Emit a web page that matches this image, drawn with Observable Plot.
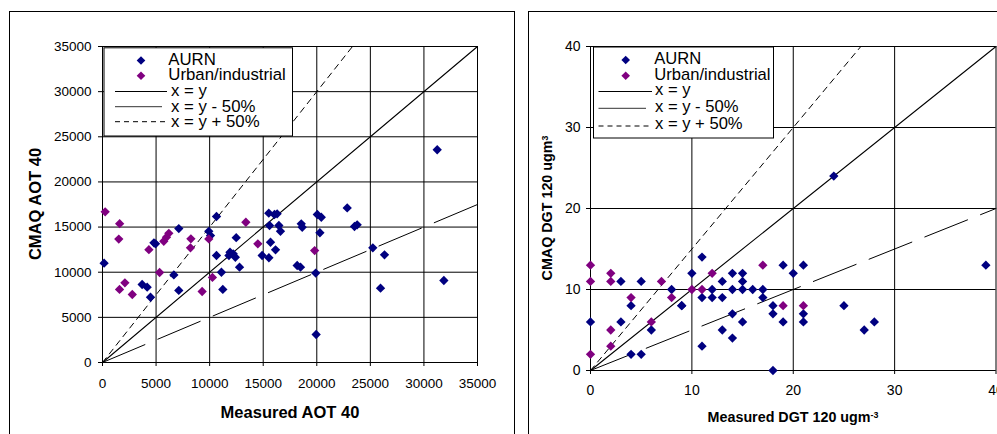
<!DOCTYPE html>
<html>
<head>
<meta charset="utf-8">
<script src="https://cdn.jsdelivr.net/npm/d3@7"></script>
<script src="https://cdn.jsdelivr.net/npm/@observablehq/plot@0.6"></script>
<style>
html,body{margin:0;padding:0;background:#fff;}
body{width:997px;height:434px;overflow:hidden;position:relative;font-family:"Liberation Sans",Arial,sans-serif;}
.frame{position:absolute;border:1px solid #000;box-sizing:border-box;}
.plotbox{position:absolute;top:0;}
.title{position:absolute;font-weight:bold;white-space:nowrap;color:#000;line-height:1;}
.title sup{font-size:0.62em;position:relative;top:-0.45em;vertical-align:baseline;}
.legend{position:absolute;top:0;left:0;overflow:visible;}
</style>
</head>
<body>
<div class="frame" style="left:9px;top:11px;width:506px;height:440px;"></div>
<div class="frame" style="left:528px;top:11px;width:480px;height:440px;"></div>
<div id="left" class="plotbox" style="left:0px;"></div>
<div id="right" class="plotbox" style="left:500px;"></div>
<script>
// ---------- DATA: left chart (AOT 40) ----------
const aotTicks = [0, 5000, 10000, 15000, 20000, 25000, 30000, 35000];
const aotAurnX = [150, 4800, 4950, 3700, 4170, 4480, 6660, 7120, 7120, 9920, 10080, 10640, 10640, 11100, 11230, 11900, 12200, 12400, 11800, 12480, 12790, 14900, 15530, 15520, 16050, 16300, 15590, 16460, 16610, 15680, 16150, 18170, 18480, 18550, 18640, 20050, 20420, 20290, 19900, 19940, 22840, 23520, 23770, 25230, 26320, 25950, 31240, 31860];
const aotAurnY = [11000, 13250, 13140, 8640, 8340, 7230, 9700, 14830, 7980, 14530, 14060, 16170, 11850, 10000, 8090, 12220, 12040, 11660, 11850, 13830, 10560, 11850, 11600, 16540, 16390, 16470, 15170, 15170, 14540, 13320, 12480, 10740, 10560, 15360, 14980, 16390, 16090, 14370, 9900, 3100, 17120, 15060, 15250, 12700, 11930, 8230, 23560, 9080];
const aotUrbanX = [250, 1600, 1520, 1590, 2090, 2780, 4330, 5330, 5720, 5970, 6190, 8250, 8210, 9300, 9920, 10260, 13380, 14500, 19800];
const aotUrbanY = [16690, 15380, 13670, 8090, 8820, 7530, 12500, 9970, 13430, 13870, 14310, 13700, 12700, 7860, 13690, 9420, 15530, 13140, 12400];
const aotRefX = [0, 35000];
const aotRefY = [0, 35000];
const aotPlusX = [0, 23333];
const aotPlusY = [0, 35000];
const aotMinusX = [0, 35000];
const aotMinusY = [0, 17500];

// ---------- DATA: right chart (DGT 120) ----------
const dgtTicks = [0, 10, 20, 30, 40];
const dgtAurnX = [0, 3, 3, 4, 4, 5, 5, 6, 8, 9, 9, 10, 11, 11, 11, 12, 12, 13, 13, 13, 14, 14, 14, 14, 15, 15, 15, 15, 16, 17, 17, 18, 18, 18, 19, 19, 20, 21, 21, 21, 24, 25, 27, 28, 39];
const dgtAurnY = [6, 11, 6, 8, 2, 11, 2, 5, 10, 8, 8, 12, 14, 9, 3, 10, 9, 11, 9, 5, 12, 10, 7, 4, 12, 11, 10, 6, 10, 10, 9, 8, 7, 0, 13, 6, 12, 13, 7, 6, 24, 8, 5, 6, 13];
const dgtUrbanX = [0, 0, 0, 2, 2, 2, 2, 4, 6, 7, 8, 10, 11, 12, 17, 19, 21];
const dgtUrbanY = [13, 11, 2, 12, 11, 5, 3, 9, 6, 11, 9, 10, 10, 12, 13, 8, 8];
const dgtRefX = [0, 40];
const dgtRefY = [0, 40];
const dgtPlusX = [0, 26.667];
const dgtPlusY = [0, 40];
const dgtMinusX = [0, 40];
const dgtMinusY = [0, 20];

// ---------- labels ----------
const seriesNames = ["AURN", "Urban/industrial"];
const lineNames = ["x = y", "x = y - 50%", "x = y + 50%"];
const colors = ["#000080", "#800080"];

const pts = (xs, ys) => xs.map((x, i) => ({x, y: ys[i]}));

function makePlot(cfg) {
  const aurn = pts(cfg.aurnX, cfg.aurnY);
  const urban = pts(cfg.urbanX, cfg.urbanY);
  return Plot.plot({
    width: cfg.width, height: 434,
    marginLeft: cfg.ml, marginRight: cfg.mr, marginTop: cfg.mt, marginBottom: cfg.mb,
    x: {domain: [cfg.ticks[0], cfg.ticks[cfg.ticks.length - 1]], label: null},
    y: {domain: [cfg.ticks[0], cfg.ticks[cfg.ticks.length - 1]], label: null},
    style: {fontFamily: "'Liberation Sans', Arial, sans-serif", fontSize: cfg.fs + "px", color: "#000", background: "transparent", overflow: "visible"},
    marks: [
      Plot.gridX(cfg.ticks, {stroke: "#000", strokeOpacity: 1, strokeWidth: 1}),
      Plot.gridY(cfg.ticks, {stroke: "#000", strokeOpacity: 1, strokeWidth: 1}),
      Plot.ruleX([cfg.ticks[0]], {stroke: "#000"}),
      Plot.ruleY([cfg.ticks[0]], {stroke: "#000"}),
      Plot.axisX(cfg.ticks, {tickSize: 4, tickPadding: cfg.xpad, tickFormat: d => String(d), label: null, fontSize: cfg.fs}),
      Plot.axisY(cfg.ticks, {tickSize: 4, tickPadding: cfg.ypad, tickFormat: d => String(d), label: null, fontSize: cfg.fs}),
      Plot.line(pts(cfg.minusX, cfg.minusY), {x: "x", y: "y", stroke: "#000", strokeWidth: 1, strokeDasharray: "46,14"}),
      Plot.line(pts(cfg.plusX, cfg.plusY), {x: "x", y: "y", stroke: "#000", strokeWidth: 1, strokeDasharray: "6,5"}),
      Plot.line(pts(cfg.refX, cfg.refY), {x: "x", y: "y", stroke: "#000", strokeWidth: 1.1}),
      Plot.dot(aurn, {x: "x", y: "y", symbol: "diamond2", r: 4.2, fill: colors[0], stroke: "none"}),
      Plot.dot(urban, {x: "x", y: "y", symbol: "diamond2", r: 4.2, fill: colors[1], stroke: "none"})
    ]
  });
}

const leftPlot = makePlot({
  width: 500, ml: 102, mr: 23, mt: 46, mb: 72, fs: 13.5, xpad: 12, ypad: 7,
  ticks: aotTicks, aurnX: aotAurnX, aurnY: aotAurnY, urbanX: aotUrbanX, urbanY: aotUrbanY,
  refX: aotRefX, refY: aotRefY, plusX: aotPlusX, plusY: aotPlusY, minusX: aotMinusX, minusY: aotMinusY
});
document.getElementById("left").appendChild(leftPlot);

const rightPlot = makePlot({
  width: 497, ml: 90, mr: 1.5, mt: 46, mb: 64, fs: 14, xpad: 11, ypad: 6,
  ticks: dgtTicks, aurnX: dgtAurnX, aurnY: dgtAurnY, urbanX: dgtUrbanX, urbanY: dgtUrbanY,
  refX: dgtRefX, refY: dgtRefY, plusX: dgtPlusX, plusY: dgtPlusY, minusX: dgtMinusX, minusY: dgtMinusY
});
document.getElementById("right").appendChild(rightPlot);

// ---------- axis titles ----------
function addTitle(html, cx, cy, size, rotate) {
  const d = document.createElement("div");
  d.className = "title";
  d.innerHTML = html;
  d.style.left = cx + "px";
  d.style.top = cy + "px";
  d.style.fontSize = size + "px";
  d.style.transform = "translate(-50%,-50%)" + (rotate ? " rotate(-90deg)" : "");
  document.body.appendChild(d);
}
addTitle("CMAQ AOT 40", 35, 204, 16.5, true);
addTitle("Measured AOT 40", 290, 412, 16.5, false);
addTitle("CMAQ DGT 120 ugm<sup>3</sup>", 547, 208, 14.3, true);
addTitle("Measured DGT 120 ugm<sup>-3</sup>", 793, 416.5, 14.3, false);

// ---------- legends ----------
function addLegend(L) {
  const ns = "http://www.w3.org/2000/svg";
  const svg = document.createElementNS(ns, "svg");
  svg.setAttribute("class", "legend");
  svg.setAttribute("width", 997);
  svg.setAttribute("height", 434);
  const el = (tag, attrs, text) => {
    const e = document.createElementNS(ns, tag);
    for (const k in attrs) e.setAttribute(k, attrs[k]);
    if (text != null) e.textContent = text;
    svg.appendChild(e);
    return e;
  };
  el("rect", {x: L.x0 + 0.5, y: L.y0 + 0.5, width: L.x1 - L.x0, height: L.y1 - L.y0, fill: "#fff", stroke: "#000", "stroke-width": 1});
  const dia = (cx, cy, c) => el("path", {d: `M${cx},${cy - 4.3}L${cx + 4.3},${cy}L${cx},${cy + 4.3}L${cx - 4.3},${cy}Z`, fill: c});
  dia(L.mx, L.my[0], colors[0]);
  dia(L.mx, L.my[1], colors[1]);
  const tstyle = {"font-family": "'Liberation Sans', Arial, sans-serif", "font-size": L.fs, fill: "#000"};
  el("text", Object.assign({x: L.tx0, y: L.base[0]}, tstyle), seriesNames[0]);
  el("text", Object.assign({x: L.tx0, y: L.base[1]}, tstyle), seriesNames[1]);
  const dashes = [null, null, "5,4"];
  for (let i = 0; i < 3; i++) {
    const a = {x1: L.lx0, x2: L.lx1[i], y1: L.ly[i], y2: L.ly[i], stroke: i === 1 ? "#333" : "#000", "stroke-width": 1};
    if (dashes[i]) a["stroke-dasharray"] = dashes[i];
    el("line", a);
    el("text", Object.assign({x: L.tx1, y: L.base[i + 2]}, tstyle), lineNames[i]);
  }
  document.body.appendChild(svg);
}
addLegend({x0: 103.5, y0: 47.3, x1: 292, y1: 135.5, mx: 141, my: [60.5, 75.8], tx0: 168.3, tx1: 171,
  base: [65, 80.3, 96, 111.7, 126.7], lx0: 115, lx1: [167, 162, 167], ly: [91.5, 106.7, 121.7], fs: 16.8});
addLegend({x0: 593, y0: 46.5, x1: 773, y1: 137.5, mx: 625.7, my: [60, 75.8], tx0: 654.3, tx1: 655,
  base: [64.3, 79.6, 95.3, 111.7, 129], lx0: 598.5, lx1: [652, 646, 652], ly: [91.5, 108.3, 126], fs: 16.6});
</script>
</body>
</html>
